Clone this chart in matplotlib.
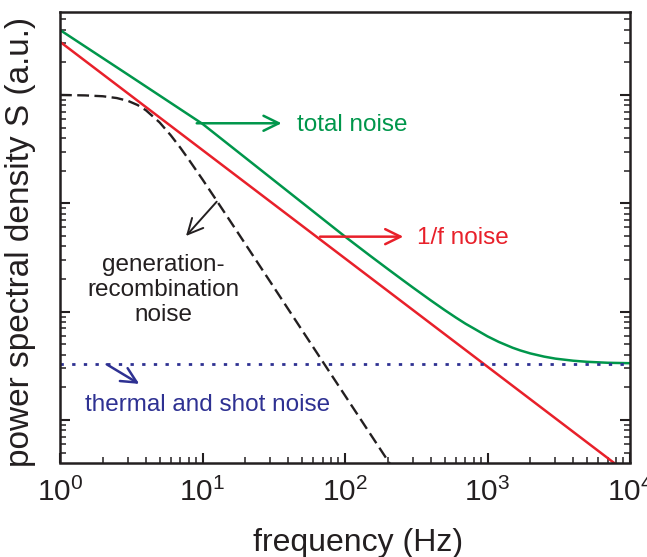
import matplotlib
matplotlib.use("Agg")
import matplotlib.pyplot as plt
from matplotlib.ticker import LogLocator, NullFormatter, FuncFormatter
import math

plt.rcParams['font.family'] = ['Liberation Sans', 'DejaVu Sans']
plt.rcParams['mathtext.fontset'] = 'custom'
plt.rcParams['mathtext.rm'] = 'Liberation Sans'
plt.rcParams['mathtext.it'] = 'Liberation Sans'
plt.rcParams['mathtext.bf'] = 'Liberation Sans'

# ---- data ----
freq_1f = [1.0, 10000.0]
S_1f = [3.1, 3.1e-4]

freq_gr = [1, 1.5, 2, 2.5, 3, 3.5, 4, 5, 6, 7, 8, 10, 12, 15, 20, 30, 50, 100, 200, 250]
S_gr = [1.0, 0.991, 0.973, 0.937, 0.882, 0.808, 0.724, 0.558, 0.423, 0.325, 0.254,
        0.166, 0.116, 0.0745, 0.042, 0.0187, 0.00672, 0.00168, 0.00042, 0.00027]

freq_white = [1.0, 10000.0]
S_white = [0.0033, 0.0033]

freq_total = [1, 3, 10, 30, 100, 150, 200, 250, 300, 400, 500, 600, 700, 800, 1000,
              1200, 1500, 1700, 2000, 2500, 3000, 4000, 5000, 7000, 10000]
S_total = [3.98, 1.54, 0.541, 0.1726, 0.0493, 0.0328, 0.0247, 0.01987, 0.01666,
           0.01269, 0.01034, 0.00881, 0.00774, 0.00700, 0.00591, 0.00525, 0.00464,
           0.00438, 0.00411, 0.00384, 0.00368, 0.00352, 0.00344, 0.00337, 0.00334]

x_limits = [1.0, 1.0e4]
y_limits = [10 ** -3.393, 10 ** 0.766]

GREEN = '#00964b'
RED = '#e8202a'
NAVY = '#2e3192'
INK = '#231f20'

fig = plt.figure(figsize=(6.47, 5.57), dpi=100)
ax = fig.add_axes([60 / 647, 1 - 462.5 / 557, 570 / 647, 450.5 / 557])

ax.plot(freq_total, S_total, color=GREEN, lw=1.8, solid_joinstyle='round')
ax.plot(freq_1f, S_1f, color=RED, lw=1.8)
ax.plot(freq_gr, S_gr, color=INK, lw=1.7, linestyle=(0, (5.0, 2.3)))
ax.plot(freq_white, S_white, color=NAVY, lw=2.0, linestyle=(0, (1.2, 3.0)))

ax.set_xscale('log')
ax.set_yscale('log')
ax.set_xlim(x_limits)
ax.set_ylim(y_limits)

for s in ax.spines.values():
    s.set_linewidth(1.8)
    s.set_color(INK)

ax.xaxis.set_major_locator(LogLocator(base=10, numticks=10))
ax.xaxis.set_minor_locator(LogLocator(base=10, subs=range(2, 10), numticks=20))
ax.xaxis.set_minor_formatter(NullFormatter())
ax.xaxis.set_major_formatter(FuncFormatter(
    lambda v, p: r'$\mathrm{10^{%d}}$' % int(round(math.log10(v)))))
ax.yaxis.set_major_locator(LogLocator(base=10, numticks=10))
ax.yaxis.set_minor_locator(LogLocator(base=10, subs=range(2, 10), numticks=20))
ax.yaxis.set_minor_formatter(NullFormatter())

ax.tick_params(which='both', direction='in', top=False, right=True,
               labelleft=False, labelright=False, color=INK)
ax.tick_params(which='major', length=7, width=1.5)
ax.tick_params(which='minor', length=4.3, width=1.1)
ax.tick_params(axis='x', which='major', labelsize=21.5, pad=11, labelcolor=INK)

arrow_kw = dict(arrowstyle='->,head_length=0.55,head_width=0.27', shrinkA=0, shrinkB=0)
txt_size = 17.5

# total noise
ax.annotate('', xy=(35.9, 0.548), xytext=(9.11, 0.548),
            arrowprops=dict(color=GREEN, lw=1.8, mutation_scale=20, **arrow_kw))
ax.text(45.8, 0.528, 'total noise', color=GREEN, fontsize=txt_size, ha='left', va='center')

# 1/f noise
ax.annotate('', xy=(256.6, 0.0492), xytext=(66.8, 0.0492),
            arrowprops=dict(color=RED, lw=1.8, mutation_scale=20, **arrow_kw))
ax.text(318.6, 0.0478, '1/f noise', color=RED, fontsize=txt_size, ha='left', va='center')

# generation-recombination noise
ax.annotate('', xy=(7.66, 0.0499), xytext=(12.58, 0.1035),
            arrowprops=dict(color=INK, lw=1.4, mutation_scale=20, **arrow_kw))
ax.text(5.28, 0.01584, 'generation-\nrecombination\nnoise', color=INK,
        fontsize=txt_size, ha='center', va='center', linespacing=1.17)

# thermal and shot noise
ax.annotate('', xy=(3.60, 0.00215), xytext=(2.127, 0.00326),
            arrowprops=dict(color=NAVY, lw=1.8, mutation_scale=20, **arrow_kw))
ax.text(1.497, 0.001374, 'thermal and shot noise', color=NAVY, fontsize=txt_size,
        ha='left', va='center')

fig.text(21 / 647, 1 - 242 / 557, 'power spectral density S (a.u.)', rotation=90,
         ha='center', va='center', fontsize=24, color=INK)
fig.text(358.5 / 647, 1 - 551 / 557, 'frequency (Hz)', ha='center', va='baseline',
         fontsize=23, color=INK)

fig.savefig('out.png', dpi=100)
